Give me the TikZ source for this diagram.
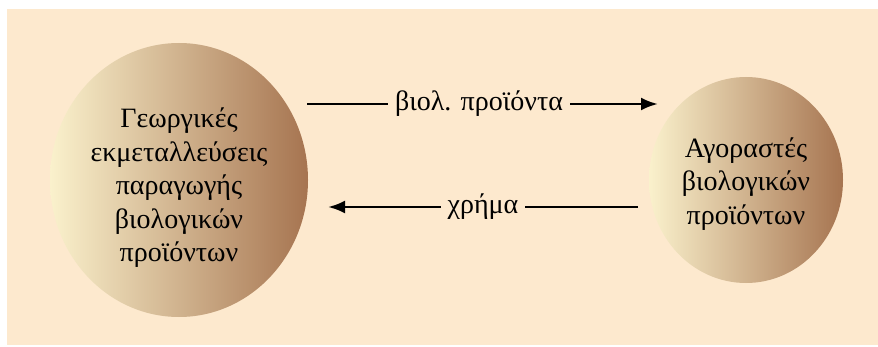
\documentclass[tikz,border=0pt]{standalone}
\usepackage{fontspec}
\setmainfont{Liberation Serif}
\usepackage{tikz}
\usepackage{xcolor}
\usetikzlibrary{arrows.meta,positioning,shapes.geometric}
\definecolor{bgpeach}{RGB}{253,233,206}
\definecolor{ballcream}{RGB}{250,241,204}
\definecolor{ballbrown}{RGB}{166,116,80}

\begin{document}
\begin{tikzpicture}[x=1pt,y=1pt,
  ball/.style={ellipse,inner sep=0pt,left color=ballcream,right color=ballbrown},
  balltext/.style={align=center,inner sep=0pt,font=\fontsize{28}{33.5}\selectfont},
  flow/.style={-{Latex[length=17pt,width=13pt]},line width=2.8pt},
  flowlabel/.style={fill=bgpeach,inner xsep=7pt,inner ysep=2pt,font=\fontsize{28}{32}\selectfont}]
\useasboundingbox (0,0) rectangle (878,346);
\fill[bgpeach] (7,1) rectangle (878,337);
\node[ball,minimum width=258pt,minimum height=274pt] (farms) at (179,166) {};
\node[balltext] (farmstext) at (179,158)
  {Γεωργικές\\εκμεταλλεύσεις\\παραγωγής\\βιολογικών\\προϊόντων};
\node[ball,minimum width=194pt,minimum height=206pt] (buyers) at (746,166) {};
\node[balltext] (buyerstext) at (746,162) {Αγοραστές\\βιολογικών\\προϊόντων};
\coordinate (goodsout) at (307,242);
\coordinate (goodsin) at (658,242);
\coordinate (cashout) at (638,139);
\coordinate (cashin) at (328,139);
\draw[flow] (goodsout) -- node[flowlabel,pos=0.49] (goodslbl) {βιολ. προϊόντα} (goodsin);
\draw[flow] (cashout) -- node[flowlabel] (cashlbl) {χρήμα} (cashin);
\end{tikzpicture}
\end{document}
